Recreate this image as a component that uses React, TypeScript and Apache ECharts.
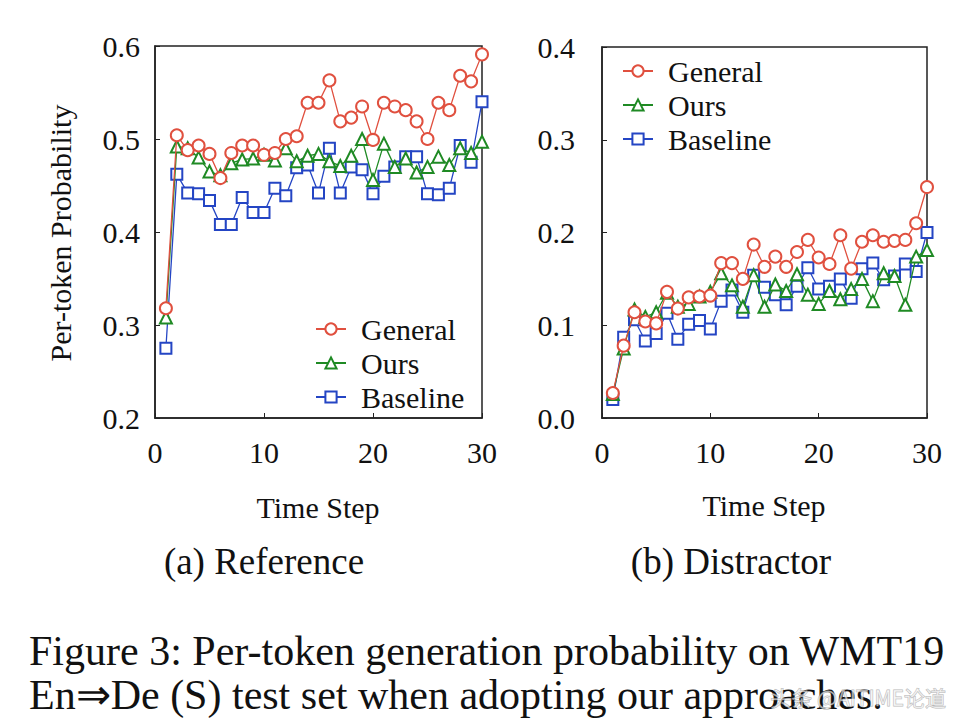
import React, { useEffect, useRef } from "react";
import * as echarts from "echarts";

const steps = [1, 2, 3, 4, 5, 6, 7, 8, 9, 10, 11, 12, 13, 14, 15, 16, 17, 18, 19, 20, 21, 22, 23, 24, 25, 26, 27, 28, 29, 30];

// (a) Reference
const refGeneral = [0.318, 0.504, 0.488, 0.493, 0.484, 0.458, 0.485, 0.493, 0.493, 0.483, 0.485, 0.5, 0.503, 0.539, 0.539, 0.563, 0.519, 0.523, 0.535, 0.499, 0.539, 0.535, 0.531, 0.519, 0.5, 0.539, 0.531, 0.568, 0.562, 0.591];
const refOurs = [0.308, 0.492, 0.49, 0.48, 0.465, 0.461, 0.474, 0.478, 0.479, 0.483, 0.477, 0.49, 0.476, 0.482, 0.484, 0.476, 0.471, 0.482, 0.5, 0.456, 0.495, 0.47, 0.479, 0.464, 0.47, 0.481, 0.472, 0.49, 0.485, 0.497];
const refBaseline = [0.275, 0.462, 0.442, 0.441, 0.434, 0.408, 0.408, 0.437, 0.421, 0.421, 0.447, 0.439, 0.469, 0.472, 0.442, 0.49, 0.442, 0.47, 0.467, 0.441, 0.46, 0.47, 0.481, 0.481, 0.441, 0.44, 0.447, 0.493, 0.475, 0.54];

// (b) Distractor
const disGeneral = [0.027, 0.078, 0.114, 0.104, 0.102, 0.136, 0.118, 0.13, 0.131, 0.132, 0.167, 0.167, 0.15, 0.187, 0.163, 0.174, 0.163, 0.179, 0.192, 0.173, 0.166, 0.197, 0.161, 0.19, 0.197, 0.19, 0.191, 0.192, 0.21, 0.249];
const disOurs = [0.026, 0.075, 0.117, 0.109, 0.114, 0.135, 0.12, 0.123, 0.131, 0.136, 0.156, 0.143, 0.12, 0.154, 0.12, 0.144, 0.137, 0.155, 0.133, 0.123, 0.137, 0.128, 0.139, 0.15, 0.126, 0.156, 0.153, 0.122, 0.174, 0.181];
const disBaseline = [0.02, 0.087, 0.106, 0.083, 0.091, 0.113, 0.085, 0.101, 0.105, 0.096, 0.126, 0.138, 0.114, 0.154, 0.141, 0.133, 0.122, 0.142, 0.162, 0.139, 0.142, 0.15, 0.129, 0.161, 0.167, 0.149, 0.153, 0.166, 0.158, 0.2];

const refYRange = [0.2, 0.6];
const disYRange = [0.0, 0.4];

const seriesNames = ["General", "Ours", "Baseline"];
const panelTitles = ["(a) Reference", "(b) Distractor"];
const xAxisTitle = "Time Step";
const yAxisTitle = "Per-token Probability";
const captionLines = [
  "Figure 3: Per-token generation probability on WMT19",
  "En\u21D2De (S) test set when adopting our approaches.",
];
const watermark = "头条 @AITIME论道";

const RED = "#e0503f";
const GREEN = "#1f8a24";
const BLUE = "#2445c4";
const FONT = "Liberation Serif";
const AXIS = "#222";

export default function App() {
  const ref = useRef<HTMLDivElement>(null);

  useEffect(() => {
    document.body.style.margin = "0";
    const chart = echarts.init(ref.current!, null, { renderer: "svg" });

    const toPairs = (arr: number[]) => steps.map((s, i) => [s, arr[i]]);

    const mkSeries = (name: string, data: number[], color: string, symbol: string, size: number, idx: number, z: number) => ({
      name,
      type: "line",
      xAxisIndex: idx,
      yAxisIndex: idx,
      data: toPairs(data),
      symbol,
      symbolSize: size,
      z,
      lineStyle: { color, width: 1.3 },
      itemStyle: { color, borderColor: color, borderWidth: 1.6 },
    });

    const xAxisBase = (idx: number) => ({
      type: "value",
      gridIndex: idx,
      min: 0,
      max: 30,
      interval: 10,
      axisLine: { show: true, lineStyle: { color: AXIS, width: 1.5 } },
      axisTick: { show: true, inside: true, length: 5, lineStyle: { color: AXIS } },
      axisLabel: { fontFamily: FONT, fontSize: 30, color: "#111", margin: 19 },
      splitLine: { show: false },
    });

    const yAxisBase = (idx: number, range: number[], margin: number) => ({
      type: "value",
      gridIndex: idx,
      min: range[0],
      max: range[1],
      interval: 0.1,
      axisLine: { show: true, lineStyle: { color: AXIS, width: 1.5 } },
      axisTick: { show: true, inside: true, length: 5, lineStyle: { color: AXIS } },
      axisLabel: {
        fontFamily: FONT,
        fontSize: 30,
        color: "#111",
        margin,
        formatter: (v: number) => v.toFixed(1),
      },
      splitLine: { show: false },
    });

    const legendBase = (left: number, top: number) => ({
      orient: "vertical",
      left,
      top,
      data: seriesNames,
      itemWidth: 30,
      itemHeight: 14,
      itemGap: 4,
      textStyle: { fontFamily: FONT, fontSize: 30, color: "#111", lineHeight: 30, padding: [0, 0, 0, 10] },
    });

    const text = (t: string, x: number, y: number, size: number, align = "center", extra: any = {}) => ({
      type: "text",
      x,
      y,
      style: {
        text: t,
        fontFamily: FONT,
        fontSize: size,
        fill: "#111",
        align,
        verticalAlign: "middle",
      },
      ...extra,
    });

    chart.setOption({
      animation: false,
      backgroundColor: "#fff",
      grid: [
        { left: 155, top: 46, width: 327, height: 372, show: true, borderColor: AXIS, borderWidth: 1.5, backgroundColor: "transparent" },
        { left: 602, top: 47, width: 325, height: 371, show: true, borderColor: AXIS, borderWidth: 1.5, backgroundColor: "transparent" },
      ],
      xAxis: [xAxisBase(0), xAxisBase(1)],
      yAxis: [yAxisBase(0, refYRange, 15), yAxisBase(1, disYRange, 27)],
      legend: [legendBase(310, 309), legendBase(617, 51)],
      series: [
        mkSeries(seriesNames[2], refBaseline, BLUE, "emptyRect", 11, 0, 2),
        mkSeries(seriesNames[1], refOurs, GREEN, "emptyTriangle", 12, 0, 3),
        mkSeries(seriesNames[0], refGeneral, RED, "emptyCircle", 12, 0, 4),
        mkSeries(seriesNames[2], disBaseline, BLUE, "emptyRect", 11, 1, 2),
        mkSeries(seriesNames[1], disOurs, GREEN, "emptyTriangle", 12, 1, 3),
        mkSeries(seriesNames[0], disGeneral, RED, "emptyCircle", 12, 1, 4),
      ],
      graphic: [
        text(yAxisTitle, 60, 233, 30, "center", { rotation: Math.PI / 2 }),
        text(xAxisTitle, 318, 507, 30),
        text(xAxisTitle, 764, 505, 30),
        text(panelTitles[0], 264, 561, 37),
        text(panelTitles[1], 731, 561, 37),
        text(captionLines[0], 29, 651, 42, "left"),
        text(captionLines[1], 29, 695, 42, "left"),
        {
          type: "text",
          x: 946,
          y: 697,
          z: 100,
          style: {
            text: watermark,
            fontFamily: "Noto Sans CJK SC",
            fontSize: 21,
            fill: "rgba(255,255,255,0.6)",
            stroke: "rgba(110,110,110,0.5)",
            lineWidth: 1,
            align: "right",
            verticalAlign: "middle",
          },
        },
      ],
    });

    return () => chart.dispose();
  }, []);

  return <div ref={ref} style={{ width: 956, height: 726 }} />;
}
